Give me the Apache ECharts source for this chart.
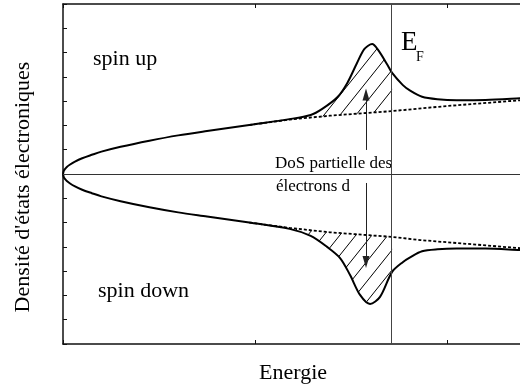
<!DOCTYPE html>
<html><head><meta charset="utf-8">
<script src="https://cdn.jsdelivr.net/npm/echarts@6/dist/echarts.min.js"></script>
<style>html,body{margin:0;padding:0;background:#fff}#c{width:520px;height:389px}</style>
</head><body><div id="c"></div>
<script>
// Energy axis in tick units, density in tick units
const spinUpDos = [[0,0],[0.005,0.15],[0.01,0.2],[0.02,0.29],[0.035,0.38],[0.06,0.5],[0.1,0.65],[0.15,0.79],[0.2,0.92],[0.3,1.12],[0.45,1.37],[0.6,1.59],[0.75,1.77],[0.97,2.02],[1.18,2.26],[1.29,2.43],[1.35,2.68],[1.43,3.17],[1.48,3.74],[1.53,4.55],[1.57,5.15],[1.61,5.35],[1.64,5.12],[1.69,4.49],[1.714,4.16],[1.77,3.66],[1.81,3.42],[1.87,3.18],[1.95,3.08],[2.05,3.04],[2.2,3.05],[2.38,3.12],[2.42,3.14]];
const spinDownDos = [[0,0],[0.005,-0.15],[0.01,-0.2],[0.02,-0.29],[0.035,-0.38],[0.06,-0.5],[0.1,-0.65],[0.15,-0.79],[0.2,-0.92],[0.3,-1.12],[0.45,-1.37],[0.6,-1.58],[0.75,-1.75],[0.97,-2.0],[1.18,-2.26],[1.29,-2.55],[1.375,-3.0],[1.443,-3.46],[1.495,-4.16],[1.547,-4.98],[1.599,-5.35],[1.651,-5.06],[1.714,-4.03],[1.771,-3.62],[1.81,-3.42],[1.87,-3.18],[1.95,-3.1],[2.05,-3.07],[2.2,-3.07],[2.38,-3.13],[2.42,-3.14]];
const spinUpFree = [[0.97,2.02],[1.18,2.24],[1.39,2.4],[1.714,2.59],[2.0,2.8],[2.42,3.06]];
const spinDownFree = [[0.97,-2.0],[1.18,-2.22],[1.39,-2.4],[1.714,-2.59],[1.86,-2.72],[2.42,-3.08]];
const fermiEnergy = 1.714;
const hatchStart = 1.18;
const arrowX = 1.578;
const arrowUp = [0.99, 3.27];
const arrowDown = [-0.37, -3.62];

const tile = document.createElement('canvas');
tile.width = 16; tile.height = 20;
(function(){
  const ctx = tile.getContext('2d');
  ctx.strokeStyle = '#000'; ctx.lineWidth = 1;
  ctx.beginPath();
  ctx.moveTo(0,20); ctx.lineTo(16,0);
  ctx.moveTo(-4,5); ctx.lineTo(4,-5);
  ctx.moveTo(12,25); ctx.lineTo(20,15);
  ctx.stroke();
})();
const hatchFill = {image: tile, repeat: 'repeat'};

function hatchSeries(curve, free) {
  return {
    type: 'custom', z: 1, silent: true,
    data: [[0,0]],
    renderItem: function(params, api) {
      const pts = [];
      curve.forEach(p => { if (p[0] >= hatchStart && p[0] <= fermiEnergy) pts.push(api.coord(p)); });
      free.slice().reverse().forEach(p => { if (p[0] >= hatchStart && p[0] <= fermiEnergy) pts.push(api.coord(p)); });
      return {type: 'polygon', shape: {points: pts}, style: {fill: hatchFill, stroke: null}};
    }
  };
}

const FONT = '"Liberation Serif", "Times New Roman", serif';
function txt(text, x, y, size, extra) {
  return Object.assign({type: 'text', x: x, y: y, silent: true,
    style: {text: text, font: size + 'px ' + FONT, fill: '#000', textAlign: 'left', textVerticalAlign: 'middle'}}, extra || {});
}

const chart = echarts.init(document.getElementById('c'));
chart.setOption({
  animation: false,
  backgroundColor: '#fff',
  grid: {left: 63, top: 4, right: 0, bottom: 45},
  xAxis: [
    {type: 'value', min: 0, max: 2.38, interval: 1, position: 'bottom',
     axisLine: {onZero: false, lineStyle: {color: '#111', width: 1.5}},
     axisTick: {inside: true, length: 4, lineStyle: {color: '#111'}},
     axisLabel: {show: false}, splitLine: {show: false}},
    {type: 'value', min: 0, max: 2.38, interval: 1, position: 'top',
     axisLine: {onZero: false, lineStyle: {color: '#111', width: 1.5}},
     axisTick: {inside: true, length: 4, lineStyle: {color: '#111'}},
     axisLabel: {show: false}, splitLine: {show: false}}
  ],
  yAxis: {type: 'value', min: -7, max: 7, interval: 1,
    axisLine: {show: true, onZero: false, lineStyle: {color: '#111', width: 1.5}},
    axisTick: {show: true, inside: true, length: 4, lineStyle: {color: '#111'}},
    axisLabel: {show: false}, splitLine: {show: false}},
  series: [
    hatchSeries(spinUpDos, spinUpFree),
    hatchSeries(spinDownDos, spinDownFree),
    {type: 'line', data: spinUpFree, showSymbol: false, z: 2, silent: true,
     lineStyle: {color: '#000', width: 1.8, type: [3, 2]},
     markLine: {silent: true, symbol: 'none', label: {show: false},
       lineStyle: {type: 'solid', width: 1, color: '#444'},
       data: [{xAxis: fermiEnergy}, {yAxis: 0, lineStyle: {color: '#333'}}]}},
    {type: 'line', data: spinDownFree, showSymbol: false, z: 2, silent: true,
     lineStyle: {color: '#000', width: 1.8, type: [3, 2]},
     markLine: {silent: true, symbol: ['none', 'triangle'], symbolSize: [7, 12], label: {show: false},
       lineStyle: {type: 'solid', width: 1, color: '#222'},
       data: [
         [{coord: [arrowX, arrowUp[0]]}, {coord: [arrowX, arrowUp[1]]}],
         [{coord: [arrowX, arrowDown[0]]}, {coord: [arrowX, arrowDown[1]]}]
       ]}},
    {type: 'line', data: spinUpDos, showSymbol: false, smooth: 0.3, z: 3, silent: true,
     lineStyle: {color: '#000', width: 2}},
    {type: 'line', data: spinDownDos, showSymbol: false, smooth: 0.3, z: 3, silent: true,
     lineStyle: {color: '#000', width: 2}}
  ],
  graphic: [
    txt('spin up', 93, 59, 22),
    txt('spin down', 98, 291, 22),
    txt('DoS partielle des', 275, 164, 17),
    txt('électrons d', 276, 187, 17),
    txt('E', 401, 43, 27),
    txt('F', 416, 57, 14),
    txt('Energie', 259, 373, 22),
    txt("Densité d'états électroniques", 23, 187, 22, {rotation: Math.PI / 2,
      style: {text: "Densité d'états électroniques", font: '22px ' + FONT, fill: '#000', textAlign: 'center', textVerticalAlign: 'middle'}})
  ]
});
</script>
</body></html>
